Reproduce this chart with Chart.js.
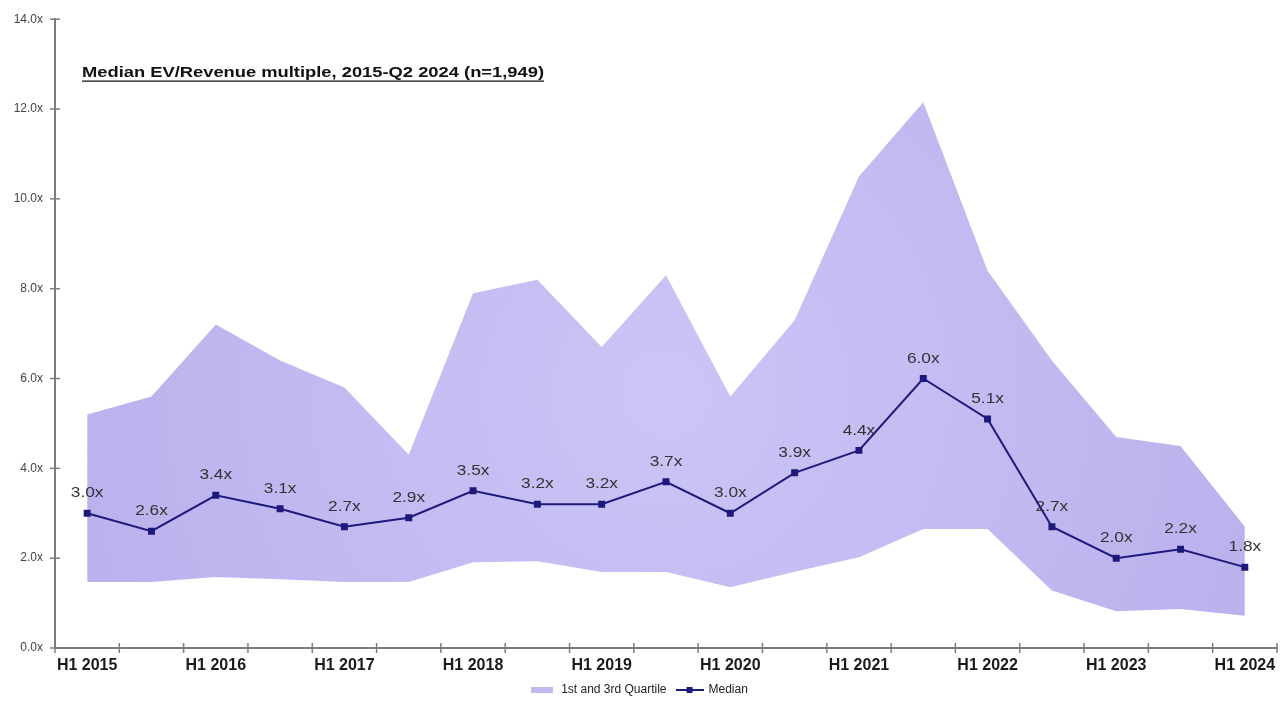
<!DOCTYPE html>
<html><head><meta charset="utf-8">
<script src="https://cdn.jsdelivr.net/npm/chart.js@4.4.1/dist/chart.umd.min.js"></script>
<style>html,body{margin:0;padding:0;background:#fff;} #wrap{width:1285px;height:706px;position:relative;}</style>
</head><body><div id="wrap"><canvas id="c" width="1285" height="706"></canvas></div>
<script>
const categories = ['H1 2015','H2 2015','H1 2016','H2 2016','H1 2017','H2 2017','H1 2018','H2 2018','H1 2019','H2 2019','H1 2020','H2 2020','H1 2021','H2 2021','H1 2022','H2 2022','H1 2023','H2 2023','H1 2024'];
const medianValues = [3.0,2.6,3.4,3.1,2.7,2.9,3.5,3.2,3.2,3.7,3.0,3.9,4.4,6.0,5.1,2.7,2.0,2.2,1.8];
const q1Values = [1.47,1.47,1.58,1.53,1.47,1.47,1.91,1.93,1.69,1.69,1.35,1.70,2.02,2.65,2.65,1.28,0.82,0.87,0.72];
const q3Values = [5.2,5.6,7.2,6.4,5.8,4.3,7.9,8.2,6.7,8.3,5.6,7.3,10.5,12.15,8.4,6.4,4.7,4.5,2.7];
const yTicks = [0,2,4,6,8,10,12,14];
const titleText = 'Median EV/Revenue multiple, 2015-Q2 2024 (n=1,949)';
const legendLabels = ['1st and 3rd Quartile','Median'];

const FONT = '"Liberation Sans", Arial, Helvetica, sans-serif';
const NAVY = '#1d1a7c';
const AXIS = '#7d7d7d';

function makeSwatch(kind){
  const c = document.createElement('canvas');
  if(kind==='area'){ c.width=22; c.height=6; const g=c.getContext('2d'); g.fillStyle='#c2b9ef'; g.fillRect(0,0,22,6); }
  else { c.width=28; c.height=8; const g=c.getContext('2d'); g.strokeStyle=NAVY; g.lineWidth=2; g.beginPath(); g.moveTo(0,4); g.lineTo(28,4); g.stroke(); g.fillStyle=NAVY; g.fillRect(11,1,6,6); }
  return c;
}
const swArea = makeSwatch('area'), swLine = makeSwatch('line');

function areaFill(ctx){
  const chart = ctx.chart, a = chart.chartArea;
  if(!a) return '#c3bbf0';
  const cx=(a.left+a.right)/2, cy=(a.top+a.bottom)/2+60;
  const g = chart.ctx.createRadialGradient(cx,cy,20,cx,cy,(a.right-a.left)*0.55);
  g.addColorStop(0,'#cbc4f6');
  g.addColorStop(1,'#b9afec');
  return g;
}

const crossTicks = {
  id:'crossTicks',
  afterDatasetsDraw(chart){
    const {ctx, scales:{x,y}} = chart;
    ctx.save(); ctx.strokeStyle=AXIS; ctx.lineWidth=1.5;
    const ax = x.left, ay = y.bottom;
    y.ticks.forEach((t)=>{ const py=y.getPixelForValue(t.value); ctx.beginPath(); ctx.moveTo(ax-5,py); ctx.lineTo(ax+5,py); ctx.stroke(); });
    for(let i=0;i<=categories.length;i++){ const px=x.getPixelForValue(i-0.5); ctx.beginPath(); ctx.moveTo(px,ay-5); ctx.lineTo(px,ay+5); ctx.stroke(); }
    ctx.restore();
  }
};

const dataLabels = {
  id:'dataLabels',
  afterDatasetsDraw(chart){
    const meta = chart.getDatasetMeta(2);
    const ctx = chart.ctx;
    ctx.save();
    ctx.font = '15px '+FONT; ctx.fillStyle='#333'; ctx.textAlign='center'; ctx.textBaseline='middle';
    meta.data.forEach((p,i)=>{
      ctx.save(); ctx.translate(p.x, p.y-20); ctx.scale(1.15,1);
      ctx.fillText(medianValues[i].toFixed(1)+'x',0,0); ctx.restore();
    });
    ctx.restore();
  }
};

const titlePlugin = {
  id:'titlePlugin',
  afterDraw(chart){
    const ctx = chart.ctx, a = chart.chartArea;
    ctx.save();
    ctx.font = 'bold 14px '+FONT; ctx.fillStyle='#111'; ctx.textBaseline='middle'; ctx.textAlign='left';
    const w = ctx.measureText(titleText).width; const target = 462; const s = target/w;
    const x0 = a.left+27, y0 = a.top+54;
    ctx.translate(x0,y0); ctx.scale(s,1); ctx.fillText(titleText,0,0); ctx.restore();
    ctx.save(); ctx.strokeStyle='#111'; ctx.lineWidth=1.2; ctx.beginPath(); ctx.moveTo(x0,y0+8); ctx.lineTo(x0+target,y0+8); ctx.stroke(); ctx.restore();
  }
};

new Chart(document.getElementById('c'), {
  type:'line',
  data:{
    labels: categories,
    datasets:[
      {label:'Q1', data:q1Values, order:2, borderWidth:0, borderColor:'rgba(0,0,0,0)', pointRadius:0, fill:false},
      {label:legendLabels[0], data:q3Values, order:1, borderWidth:0, borderColor:'rgba(0,0,0,0)', pointRadius:0, fill:'-1', backgroundColor:areaFill},
      {label:legendLabels[1], data:medianValues, order:0, borderColor:NAVY, borderWidth:2, backgroundColor:NAVY, pointStyle:'rect', pointRadius:3.5, pointBackgroundColor:NAVY, pointBorderColor:NAVY, fill:false, tension:0}
    ]
  },
  options:{
    responsive:false, animation:false,
    layout:{padding:{top:16,right:8,left:0,bottom:0}},
    plugins:{
      tooltip:{enabled:false},
      legend:{
        position:'bottom',
        labels:{
          usePointStyle:true, pointStyleWidth:26, padding:10,
          font:{family:FONT,size:12}, color:'#222',
          generateLabels(chart){
            return [
              {text:legendLabels[0], pointStyle:swArea, fillStyle:'#c2b9ef', strokeStyle:'rgba(0,0,0,0)', lineWidth:0, hidden:false, datasetIndex:1, fontColor:'#222'},
              {text:legendLabels[1], pointStyle:swLine, fillStyle:NAVY, strokeStyle:NAVY, lineWidth:0, hidden:false, datasetIndex:2, fontColor:'#222'}
            ];
          }
        }
      }
    },
    scales:{
      x:{
        offset:true,
        grid:{display:true, drawOnChartArea:false, drawTicks:false, offset:true},
        border:{display:true, color:AXIS, width:2},
        ticks:{autoSkip:false, maxRotation:0, padding:8, color:'#1a1a1a', font:{family:FONT,size:16,weight:'bold'},
          callback(v){ const l=categories[v]; return l.startsWith('H1') ? l : ''; }},
        afterFit(s){ s.height = 26; }
      },
      y:{
        min:0, max:14,
        afterBuildTicks(s){ s.ticks = yTicks.map(v=>({value:v})); },
        grid:{display:true, drawOnChartArea:false, drawTicks:false},
        border:{display:true, color:AXIS, width:2},
        ticks:{padding:12, color:'#444', font:{family:FONT,size:12}, callback(v){ return Number(v).toFixed(1)+'x'; }},
        afterFit(s){ s.width = 55; }
      }
    }
  },
  plugins:[crossTicks, dataLabels, titlePlugin]
});
</script></body></html>
